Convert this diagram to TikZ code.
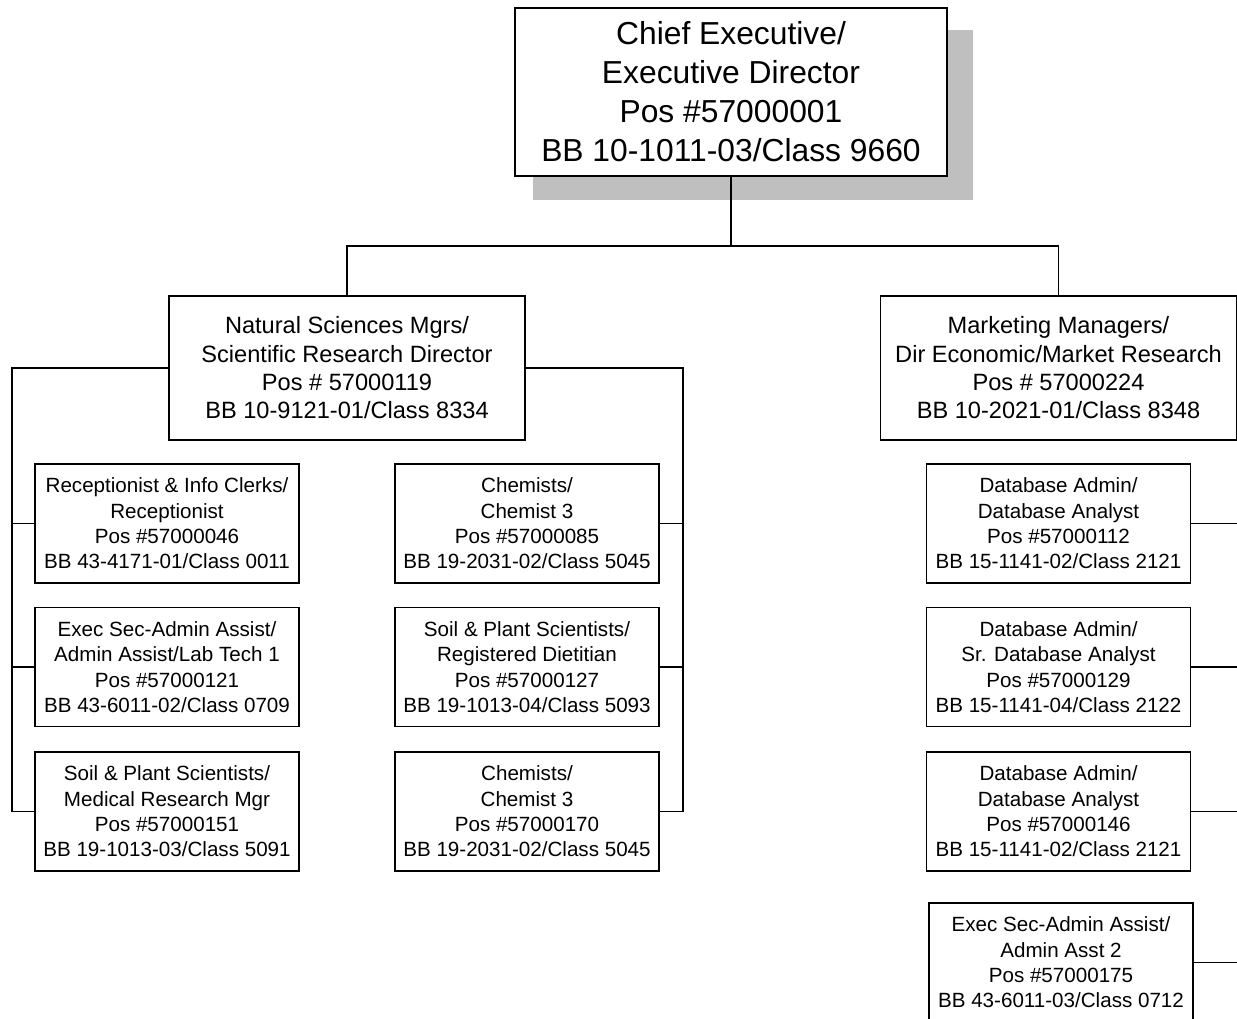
\documentclass[tikz,border=0pt]{standalone}
\usepackage{fontspec}
\setmainfont{Liberation Sans}
\begin{document}
\begin{tikzpicture}[x=1pt,y=-1pt,
  box/.style={draw=black, fill=white, line width=1.8pt, inner sep=0pt, align=center, text=black},
  bigbox/.style={box, minimum width=432pt, minimum height=168pt, font=\fontsize{31.8pt}{39pt}\selectfont},
  midbox/.style={box, minimum width=356pt, minimum height=144pt, font=\fontsize{23.6pt}{28.3pt}\selectfont},
  smallbox/.style={box, minimum width=264pt, minimum height=119pt, font=\fontsize{20.6pt}{25.3pt}\selectfont},
  link/.style={draw=black, line width=1.8pt}
]
\useasboundingbox (0,0) rectangle (1237,1018);
\clip (0,0) rectangle (1237,1018);
\fill[white] (0,0) rectangle (1237,1018);

% shadow of the top box
\fill[black!25] (533,30) rectangle (973,200);

\node[bigbox] (ceo) at (731,92) {Chief Executive/\\Executive Director\\Pos \#57000001\\BB 10-1011-03/Class 9660};

\node[midbox] (nat) at (347,368) {Natural Sciences Mgrs/\\Scientific Research Director\\Pos \# 57000119\\BB 10-9121-01/Class 8334};
\node[midbox] (mkt) at (1058.5,368) {Marketing Managers/\\Dir Economic/Market Research\\Pos \# 57000224\\BB 10-2021-01/Class 8348};

\node[smallbox] (l1) at (167,523.5) {Receptionist \& Info Clerks/\\Receptionist\\Pos \#57000046\\BB 43-4171-01/Class 0011};
\node[smallbox] (l2) at (167,667) {Exec Sec-Admin Assist/\\Admin Assist/Lab Tech 1\\Pos \#57000121\\BB 43-6011-02/Class 0709};
\node[smallbox] (l3) at (167,811.5) {Soil \& Plant Scientists/\\Medical Research Mgr\\Pos \#57000151\\BB 19-1013-03/Class 5091};

\node[smallbox] (m1) at (527,523.5) {Chemists/\\Chemist 3\\Pos \#57000085\\BB 19-2031-02/Class 5045};
\node[smallbox] (m2) at (527,667) {Soil \& Plant Scientists/\\Registered Dietitian\\Pos \#57000127\\BB 19-1013-04/Class 5093};
\node[smallbox] (m3) at (527,811.5) {Chemists/\\Chemist 3\\Pos \#57000170\\BB 19-2031-02/Class 5045};

\node[smallbox] (r1) at (1058.5,523.5) {Database Admin/\\Database Analyst\\Pos \#57000112\\BB 15-1141-02/Class 2121};
\node[smallbox] (r2) at (1058.5,667) {Database Admin/\\Sr. Database Analyst\\Pos \#57000129\\BB 15-1141-04/Class 2122};
\node[smallbox] (r3) at (1058.5,811.5) {Database Admin/\\Database Analyst\\Pos \#57000146\\BB 15-1141-02/Class 2121};
\node[smallbox] (r4) at (1061,962.5) {Exec Sec-Admin Assist/\\Admin Asst 2\\Pos \#57000175\\BB 43-6011-03/Class 0712};

% bus coordinates
\coordinate (topbus) at (0,246);
\coordinate (lbus) at (12,0);
\coordinate (mbus) at (683,0);
\coordinate (rbus) at (1245,0);

% top level
\draw[link] (ceo.south) -- (ceo.south |- topbus) -| (nat.north);
\draw[link] (ceo.south |- topbus) -| (mkt.north);

% left bus
\draw[link] (nat.west) -- (nat.west -| lbus) |- (l3.west);
\draw[link] (l1.west) -- (l1.west -| lbus);
\draw[link] (l2.west) -- (l2.west -| lbus);

% middle bus
\draw[link] (nat.east) -- (nat.east -| mbus) |- (m3.east);
\draw[link] (m1.east) -- (m1.east -| mbus);
\draw[link] (m2.east) -- (m2.east -| mbus);

% right side (bus beyond the edge)
\draw[link] (r1.east) -- (r1.east -| rbus);
\draw[link] (r2.east) -- (r2.east -| rbus);
\draw[link] (r3.east) -- (r3.east -| rbus);
\draw[link] (r4.east) -- (r4.east -| rbus);
\end{tikzpicture}
\end{document}
